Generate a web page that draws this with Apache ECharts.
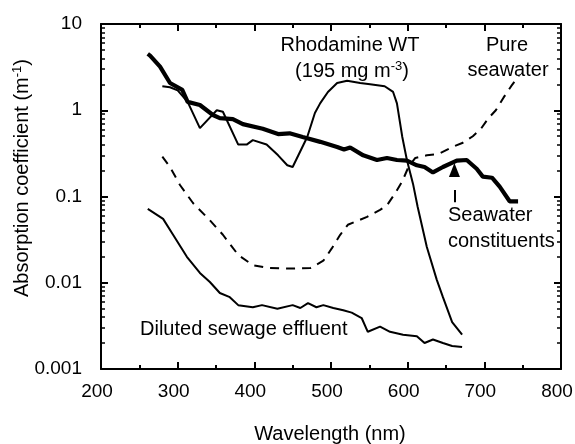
<!DOCTYPE html>
<html>
<head>
<meta charset="utf-8">
<script src="https://cdn.jsdelivr.net/npm/echarts@6/dist/echarts.min.js"></script>
<style>
  html, body { margin: 0; padding: 0; background: #fff; }
  #wrap { position: relative; width: 575px; height: 444px; }
  #frame, #plot { position: absolute; left: 0; top: 0; width: 575px; height: 444px; }
  #plot { pointer-events: none; }
</style>
</head>
<body>
<div id="wrap">
  <div id="frame"></div>
  <div id="plot"></div>
</div>
<script>
// values: wavelength (nm) and absorption coefficient (m^-1)
var constWl  = [261, 264, 277, 290, 306, 313, 329, 346, 355, 372, 385, 411, 431, 446, 463, 486, 508, 517, 525, 542, 560, 573, 586, 599, 612, 622, 633, 646, 664, 677, 690, 698, 710, 720, 733, 744];
var constAbs = [4.5, 4.3, 3.2, 2.07, 1.72, 1.25, 1.15, 0.88, 0.81, 0.79, 0.69, 0.61, 0.53, 0.54, 0.49, 0.43, 0.375, 0.35, 0.37, 0.30, 0.265, 0.28, 0.265, 0.26, 0.23, 0.22, 0.19, 0.22, 0.26, 0.265, 0.21, 0.17, 0.165, 0.13, 0.088, 0.088];

var rhodWl  = [280, 290, 300, 313, 329, 351, 359, 379, 390, 398, 416, 431, 443, 450, 469, 479, 486, 496, 508, 521, 538, 551, 570, 581, 586, 593, 599, 607, 613, 625, 638, 646, 658, 671];
var rhodAbs = [1.9, 1.85, 1.7, 1.25, 0.62, 1.0, 0.96, 0.40, 0.40, 0.45, 0.40, 0.30, 0.23, 0.22, 0.49, 0.93, 1.21, 1.63, 2.07, 2.2, 2.07, 2.0, 1.9, 1.63, 1.2, 0.49, 0.265, 0.14, 0.076, 0.026, 0.0108, 0.0068, 0.0035, 0.0025];

var pureWl  = [280, 290, 303, 320, 342, 359, 379, 398, 420, 443, 473, 490, 501, 512, 522, 547, 564, 573, 584, 593, 601, 610, 625, 640, 660, 672, 685, 695, 705, 715, 725, 735, 745];
var pureAbs = [0.29, 0.22, 0.136, 0.084, 0.053, 0.036, 0.021, 0.016, 0.0148, 0.0146, 0.0148, 0.018, 0.025, 0.036, 0.047, 0.058, 0.070, 0.079, 0.11, 0.15, 0.22, 0.28, 0.30, 0.31, 0.38, 0.42, 0.50, 0.60, 0.80, 1.0, 1.4, 1.9, 2.5];

var sewWl  = [261, 281, 294, 312, 329, 342, 355, 368, 379, 398, 410, 430, 450, 460, 470, 481, 490, 503, 516, 527, 540, 548, 564, 577, 594, 612, 622, 633, 646, 658, 671];
var sewAbs = [0.072, 0.055, 0.036, 0.020, 0.013, 0.0102, 0.0076, 0.0068, 0.0055, 0.0052, 0.0055, 0.0050, 0.0055, 0.0051, 0.0058, 0.0052, 0.0055, 0.0051, 0.0048, 0.0045, 0.0039, 0.0027, 0.0031, 0.0027, 0.0025, 0.0024, 0.0020, 0.0022, 0.0020, 0.00185, 0.0018];

// arrow pointing at the seawater constituents curve
var arrowWl = 661;
var arrowTail = [0.086, 0.119];
var arrowHead = 0.203;

var yTickLabels = ['0.001', '0.01', '0.1', '1', '10'];
var decades = [0.001, 0.01, 0.1, 1];

var FONT = '"Liberation Sans", Arial, Helvetica, sans-serif';
var GRID = { left: 101, right: 14, top: 24, bottom: 75, outerBoundsMode: 'none' };

function zip(xs, ys) {
  return xs.map(function (x, i) { return [x, ys[i]]; });
}

// log minor ticks 2..9 in each decade
var minorVals = [];
decades.forEach(function (d) {
  for (var k = 2; k <= 9; k++) minorVals.push(+(k * d).toPrecision(3));
});

/* ---------- frame: axes, ticks, tick labels ---------- */
function axLine() {
  return { show: true, onZero: false, lineStyle: { color: '#000', width: 2 } };
}

function xAx(pos, labels) {
  return {
    type: 'value', position: pos, min: 200, max: 800, interval: 100,
    axisLine: axLine(),
    axisTick: { show: true, inside: true, length: 7, lineStyle: { color: '#000', width: 2 } },
    minorTick: { show: true, splitNumber: 2, length: 4, lineStyle: { color: '#000', width: 2 } },
    axisLabel: { show: labels, color: '#000', fontSize: 19, fontFamily: FONT, margin: 13, padding: [0, 8, 0, 0] },
    splitLine: { show: false }
  };
}

function yAx(pos, major, labels) {
  return {
    type: 'log', logBase: 10, position: pos, min: 0.001, max: 10,
    axisLine: major ? axLine() : { show: false },
    axisTick: major
      ? { show: true, inside: true, length: 7, lineStyle: { color: '#000', width: 2 } }
      : { show: true, inside: true, length: 4, customValues: minorVals, lineStyle: { color: '#000', width: 1.5 } },
    axisLabel: {
      show: labels, color: '#000', fontSize: 19, fontFamily: FONT, margin: 19,
      formatter: function (v) { return yTickLabels[Math.round(Math.log10(v)) + 3]; }
    },
    splitLine: { show: false },
    minorTick: { show: false }
  };
}

var frame = echarts.init(document.getElementById('frame'));
frame.setOption({
  animation: false,
  grid: GRID,
  xAxis: [xAx('bottom', true), xAx('top', false)],
  yAxis: [
    yAx('left', true, true),
    yAx('left', false, false),
    yAx('right', true, false),
    yAx('right', false, false)
  ],
  series: [{ type: 'line', data: [] }]
});

/* ---------- plot: curves and annotations on the same scales ---------- */
function lineSeries(name, xs, ys, width, type) {
  return {
    name: name, type: 'line', data: zip(xs, ys), symbol: 'none',
    lineStyle: { color: '#000', width: width, type: type || 'solid' }
  };
}

var constSeries = lineSeries('Seawater constituents', constWl, constAbs, 4.2);
constSeries.markLine = {
  symbol: ['none', 'none'],
  label: { show: false },
  lineStyle: { color: '#000', width: 2, type: 'solid' },
  data: [[{ coord: [arrowWl, arrowTail[0]] }, { coord: [arrowWl, arrowTail[1]] }]]
};
constSeries.markPoint = {
  symbol: 'triangle', symbolSize: [11, 14],
  itemStyle: { color: '#000' }, label: { show: false },
  data: [{ coord: [arrowWl, arrowHead] }]
};

var txt = { fill: '#000', fontSize: 20, fontFamily: FONT };
function label(x, y, text, align) {
  var st = Object.assign({ text: text, textAlign: align || 'center', textVerticalAlign: 'middle' }, txt);
  return { type: 'text', x: x, y: y, style: st };
}
var supRich = { sup: { fontSize: 13, fontFamily: FONT, verticalAlign: 'top', padding: [0, 0, 10, 0] } };

var plot = echarts.init(document.getElementById('plot'));
plot.setOption({
  animation: false,
  backgroundColor: 'transparent',
  grid: GRID,
  xAxis: { type: 'value', min: 200, max: 800, show: false },
  yAxis: { type: 'log', logBase: 10, min: 0.001, max: 10, show: false },
  series: [
    lineSeries('Pure seawater', pureWl, pureAbs, 2, [9, 7]),
    lineSeries('Rhodamine WT', rhodWl, rhodAbs, 2),
    lineSeries('Diluted sewage effluent', sewWl, sewAbs, 2),
    constSeries
  ],
  graphic: [
    label(350, 45, 'Rhodamine WT'),
    {
      type: 'text', x: 352, y: 71,
      style: Object.assign({ text: '(195 mg m{sup|-3})', rich: supRich, textAlign: 'center', textVerticalAlign: 'middle' }, txt)
    },
    label(507, 45, 'Pure'),
    label(508, 70, 'seawater'),
    label(448, 215, 'Seawater', 'left'),
    label(448, 241, 'constituents', 'left'),
    label(140, 329, 'Diluted sewage effluent', 'left'),
    label(330, 434, 'Wavelength (nm)'),
    {
      type: 'text', x: 22, y: 178, rotation: Math.PI / 2,
      style: Object.assign({ text: 'Absorption coefficient (m{sup|-1})', rich: supRich, textAlign: 'center', textVerticalAlign: 'middle' }, txt)
    }
  ]
});
</script>
</body>
</html>
